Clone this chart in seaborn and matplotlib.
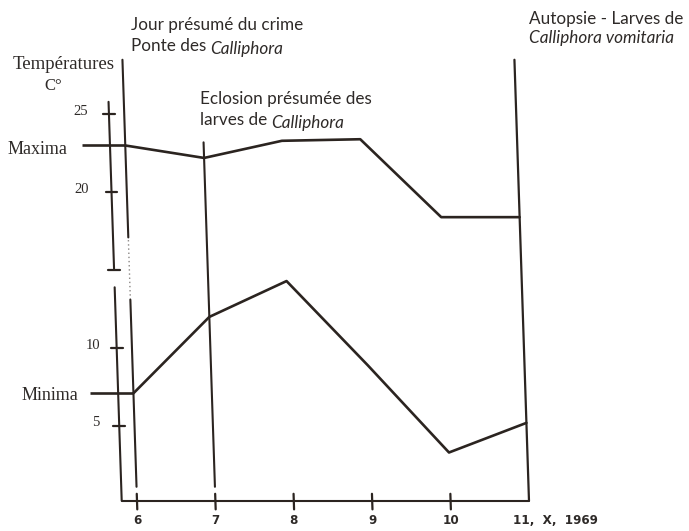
import matplotlib
matplotlib.use("Agg")
import matplotlib.pyplot as plt
import matplotlib.transforms as mtransforms
import pandas as pd
import seaborn as sns

# Daily temperatures, 6 -> 11 October 1969
days = [6, 7, 8, 9, 10, 11]
maxima = [23.0, 22.2, 23.3, 23.4, 18.4, 18.4]
minima = [7.1, 12.0, 14.3, 8.9, 3.3, 5.2]
day_labels = ["6", "7", "8", "9", "10", "11, X, 1969"]
temp_ticks = [5, 10, 15, 20, 25]
temp_labels = ["5", "10", "", "20", "25"]

# Events (day, top of the vertical marker in degrees)
event_days = [6, 7, 11]
event_tops = [28.5, 23.2, 28.5]

INK = "#2b2420"
TXT = "#2e2a28"

sns.set_theme(style="white")
plt.rcParams["font.family"] = ["Liberation Serif", "DejaVu Serif"]

fig = plt.figure(figsize=(6.89, 5.31), dpi=100)
ax = fig.add_axes([0, 0, 1, 1])
ax.set_xlim(4.2526, 13.041)
ax.set_ylim(-1.737, 32.334)
ax.axis("off")

# hand-drawn lean: verticals slant slightly to the left going up
base_T = 0.2
k = 0.00656
skew = mtransforms.Affine2D.from_values(1, 0, -k, 1, k * base_T, 0)
tr = skew + ax.transData

df = pd.DataFrame({"day": days + days,
                   "temp": maxima + minima,
                   "serie": ["Maxima"] * len(days) + ["Minima"] * len(days)})

sns.lineplot(data=df, x="day", y="temp", units="serie", estimator=None,
             color=INK, lw=1.9, ax=ax, transform=tr, legend=False)

# lead-in stubs from the series labels
stub_x = 5.45
for vals in (maxima, minima):
    ax.plot([stub_x, days[0]], [vals[0], vals[0]], color=INK, lw=1.9, transform=tr,
            solid_capstyle="butt")

# temperature axis with a break around 15
axis_x = 5.805
ax.plot([axis_x, axis_x], [15.1, 25.8], color=INK, lw=1.5, transform=tr)
ax.plot([axis_x, axis_x], [base_T, 13.9], color=INK, lw=1.5, transform=tr)
for t in temp_ticks:
    ax.plot([axis_x - 0.075, axis_x + 0.075], [t, t], color=INK, lw=1.6, transform=tr)

# time axis
ax.plot([axis_x, days[-1]], [base_T, base_T], color=INK, lw=1.5, transform=tr)
for d in days[:-1]:
    ax.plot([d, d], [base_T - 0.55, base_T + 0.45], color=INK, lw=1.6, transform=tr)

# event markers
ax.plot([6, 6], [17.1, event_tops[0]], color=INK, lw=1.5, transform=tr)
ax.plot([6, 6], [13.1, 17.1], color=INK, lw=1.0, ls=(0, (1, 2)), alpha=0.55, transform=tr)
ax.plot([6, 6], [1.1, 13.1], color=INK, lw=1.5, transform=tr)
ax.plot([7, 7], [1.1, event_tops[1]], color=INK, lw=1.5, transform=tr)
ax.plot([11, 11], [base_T, event_tops[2]], color=INK, lw=1.6, transform=tr)

# day labels
xt = ax.get_xaxis_transform()
day_font = dict(fontsize=9.5, color=TXT, family="DejaVu Sans", fontweight="bold",
                fontstretch="condensed", va="center")
for d, lab in zip(days, day_labels):
    if d == days[-1]:
        ax.text(10.80, 0.019, lab.replace(" ", "  "), transform=xt, ha="left", **day_font)
    else:
        ax.text(d, 0.019, lab, transform=xt, ha="center", **day_font)

# temperature labels
lab_x = {5: 96, 10: 93, 20: 82, 25: 81}
for t, lab in zip(temp_ticks, temp_labels):
    if lab:
        fig.text(lab_x[t] / 689, 1 - (426 - (t - 5) * 15.585 - 3) / 531, lab,
                 ha="center", va="center", fontsize=10.5, color=TXT)

fig.text(13 / 689, 1 - 65 / 531, "Températures", ha="left", va="center",
         fontsize=13.5, color=TXT)
fig.text(44 / 689, 1 - 86 / 531, "C°", ha="left", va="center", fontsize=12, color=TXT)
fig.text(8 / 689, 1 - 149 / 531, "Maxima", ha="left", va="center", fontsize=13, color=TXT)
fig.text(22 / 689, 1 - 395 / 531, "Minima", ha="left", va="center", fontsize=13, color=TXT)

# annotations, with the genus names set in italics
ann = dict(fontsize=12.3, color=TXT, family=["Lato", "DejaVu Sans"])


def caption(px, py, upright, italic=""):
    t = fig.text(px / 689, 1 - py / 531, upright, ha="left", va="baseline", **ann)
    if italic:
        ax.annotate(italic, xy=(1, 0), xycoords=t, xytext=(3, 0),
                    textcoords="offset points", ha="left", va="baseline",
                    style="italic", **ann)
    return t


caption(131, 30, "Jour présumé du crime")
caption(131, 51, "Ponte des", "Calliphora")
caption(200, 104, "Eclosion présumée des")
caption(200, 125, "larves de", "Calliphora")
caption(529, 24, "Autopsie - Larves de")
fig.text(529 / 689, 1 - 43 / 531, "Calliphora vomitaria", ha="left", va="baseline",
         style="italic", **ann)

fig.savefig("out.png", dpi=100, facecolor="white")
